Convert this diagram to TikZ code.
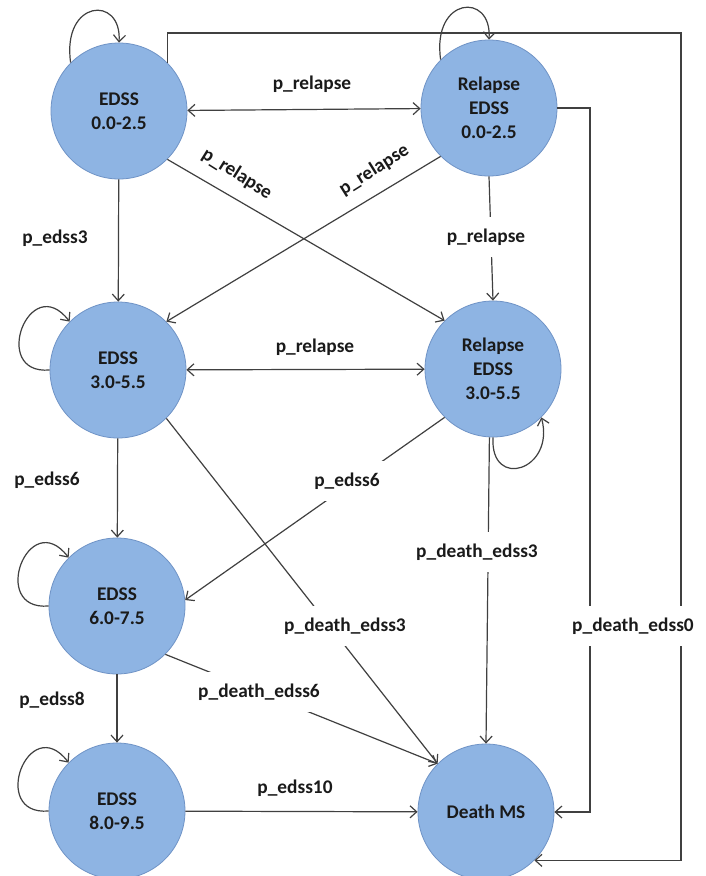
\documentclass[tikz,border=0pt]{standalone}
\usepackage{fontspec}
\setmainfont{Carlito}
\usetikzlibrary{arrows.meta}
\definecolor{nodefill}{HTML}{8EB4E3}
\definecolor{nodeedge}{HTML}{6F93C6}
\definecolor{linec}{HTML}{404040}
\definecolor{txt}{HTML}{1A1A1A}
\begin{document}
\begin{tikzpicture}[x=0.75pt,y=-0.75pt,
  state/.style={circle,draw=nodeedge,line width=0.6pt,fill=nodefill,minimum size=102pt,inner sep=0pt,align=center,font=\fontsize{14.5}{18}\selectfont\bfseries,text=txt},
  arr/.style={draw=linec,line width=0.9pt,-{Straight Barb[length=5pt,width=9pt]}},
  darr/.style={draw=linec,line width=0.9pt,{Straight Barb[length=5pt,width=9pt]}-{Straight Barb[length=5pt,width=9pt]}},
  plain/.style={draw=linec,line width=0.9pt},
  lbl/.style={font=\fontsize{14.5}{18}\selectfont\bfseries,inner sep=1pt,text=txt},
  cutlbl/.style={lbl,fill=white,inner xsep=3pt,inner ysep=9pt}]
\fill[white] (0,0) rectangle (706,876);
\useasboundingbox (0,0) rectangle (706,876);

% states
\node[state] (A) at (119,111) {EDSS\\0.0-2.5};
\node[state] (B) at (489,108) {Relapse\\EDSS\\0.0-2.5};
\node[state] (C) at (118,370) {EDSS\\3.0-5.5};
\node[state] (D) at (493,369) {Relapse\\EDSS\\3.0-5.5};
\node[state] (E) at (117,606) {EDSS\\6.0-7.5};
\node[state] (F) at (117,811) {EDSS\\8.0-9.5};
\node[state] (G) at (486,812) {Death MS};

% helper corners
\coordinate (tr) at (681,33);
\coordinate (r2) at (590,460);

% self loops
\draw[arr] (A.135) .. controls +(-9,-63) and +(3,-48) .. (A.90);
\draw[arr] (B.135) .. controls +(-9,-63) and +(3,-48) .. (B.90);
\draw[arr] (C.180) .. controls +(-60,5) and +(-40,-52) .. (C.135);
\draw[arr] (E.180) .. controls +(-60,5) and +(-40,-52) .. (E.135);
\draw[arr] (F.180) .. controls +(-60,5) and +(-40,-52) .. (F.135);
\draw[arr] (D.270) .. controls +(-3,53) and +(14,53) .. (D.-45);

% transitions
\draw[darr] (A) -- (B);
\draw[darr] (C) -- (D);
\draw[arr] (A) -- (C);
\draw[arr] (C) -- (E);
\draw[arr] (E) -- (F);
\draw[arr] (F) -- (G);
\draw[arr] (A.-45) -- (D.135);
\draw[arr] (B.225) -- (C.45);
\draw[arr] (B.south) -- (D.north);
\draw[arr] (D.-135) -- (E.5);
\draw[arr] (C.-45) -- (G.135);
\draw[arr] (E.-45) -- (G.135);
\draw[arr] (D.-93) -- (G.90);
\draw[arr] (A.45) |- (tr) |- (G.-45);
\draw[arr] (B.east) -| (r2) |- (G.east);

% labels
\node[lbl] (lAB) at (312,84) {p\_relapse};
\node[lbl] (lCD) at (315,347) {p\_relapse};
\node[lbl] (lAC) at (55,238) {p\_edss3};
\node[lbl] (lCE) at (47,480) {p\_edss6};
\node[lbl] (lEF) at (52,700) {p\_edss8};
\node[lbl] (lFG) at (295,788) {p\_edss10};
\node[lbl,rotate=-32] (lAD) at (237,174) {p\_relapse};
\node[lbl,rotate=32] (lBC) at (374,170) {p\_relapse};
\node[cutlbl] (lBD) at (486,237) {p\_relapse};
\node[cutlbl] (lDE) at (347,481) {p\_edss6};
\node[cutlbl] (lCG) at (345,626) {p\_death\_edss3};
\node[cutlbl] (lDG) at (477,552) {p\_death\_edss3};
\node[cutlbl] (lEG) at (259,692) {p\_death\_edss6};
\node[cutlbl] (lD0) at (633,626) {p\_death\_edss0};
\end{tikzpicture}
\end{document}
